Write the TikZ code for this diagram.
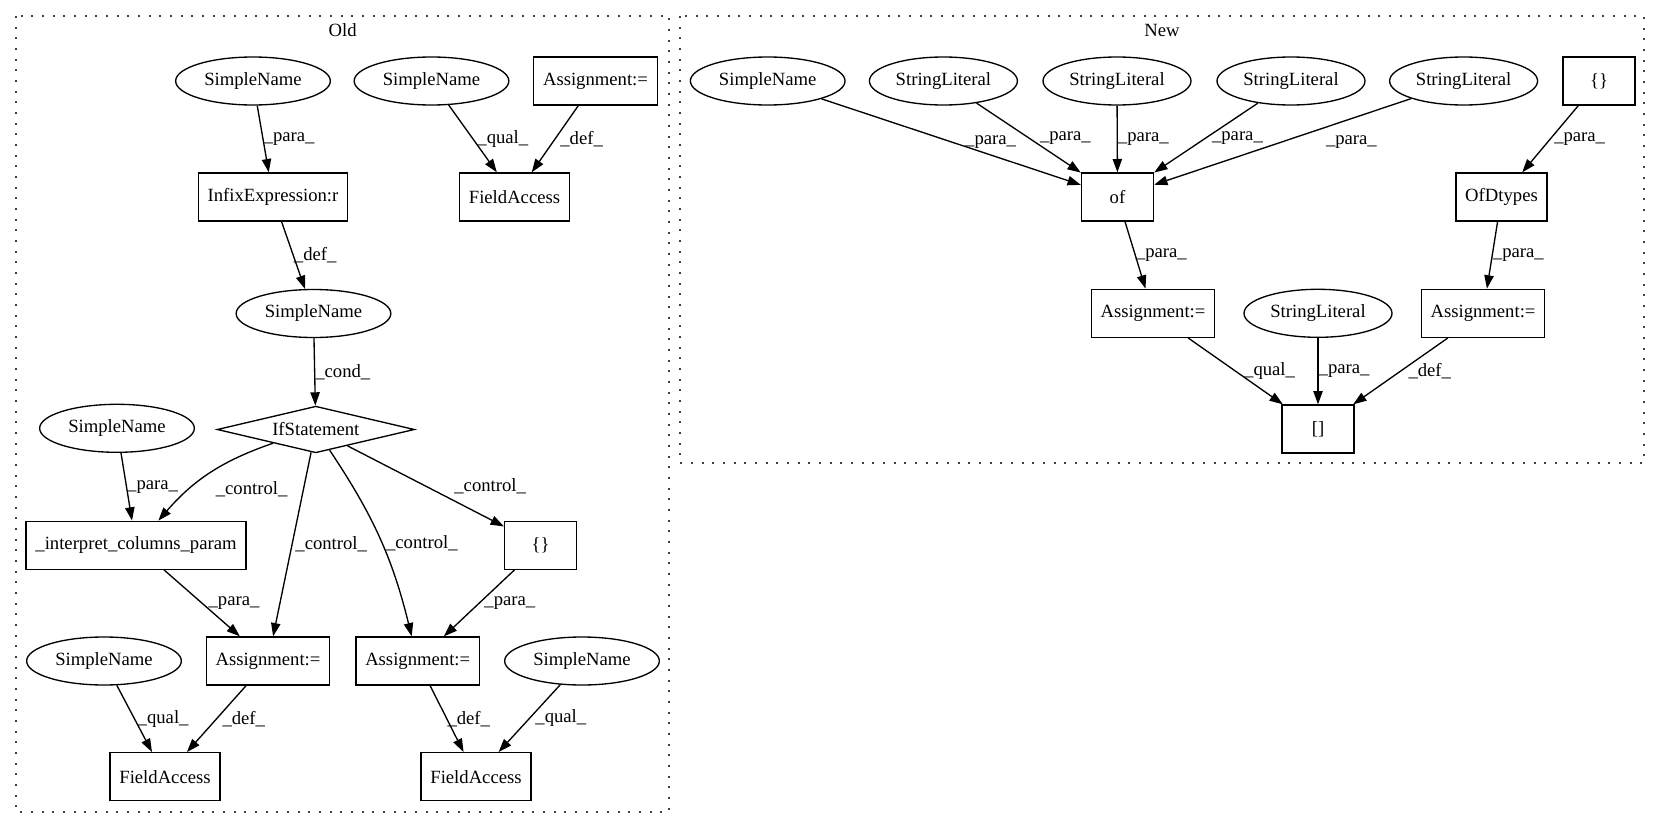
\documentclass[tikz,border=0pt]{standalone}
\usepackage{fontspec}
\setmainfont{Liberation Serif}
\usetikzlibrary{arrows.meta,shapes.geometric}

\begin{document}
\begin{tikzpicture}[
        x=0.75pt, y=-0.75pt,
        every node/.style={font=\fontsize{14}{16}\selectfont},
        ast/.style={ellipse, draw, line width=1pt, minimum width=116pt, minimum height=36pt, inner sep=0pt},
        lit/.style={ast, minimum width=111pt},
        box/.style={rectangle, draw, line width=1pt, minimum width=54pt, minimum height=36pt, inner xsep=7pt},
        cond/.style={diamond, draw, line width=1pt, aspect=4, minimum width=148pt, minimum height=35pt, inner sep=0pt},
        cluster/.style={draw=black!75, line width=1.5pt, dash pattern=on 1.5pt off 6.5pt},
        flow/.style={draw, line width=1pt, -{Triangle[length=10pt,width=7pt]}},
        lbl/.style={midway, anchor=west, inner sep=0pt}
    ]
        \useasboundingbox (0,0) rectangle (1661,828);

        % Clusters
        \draw[cluster] (16,16) rectangle (669,811.7);
        \node (OLD) at (342.6,30) {Old};
        \draw[cluster] (679.5,16) rectangle (1644,463.3);
        \node (NEW) at (1162,30) {New};

        % Old nodes
        \node[ast] (SN1) at (253,81) {SimpleName};
        \node[ast] (SN2) at (431.5,81) {SimpleName};
        \node[box] (ASG1) at (595.5,81) {Assignment:=};
        \node[box] (INFIX) at (273,197) {InfixExpression:r};
        \node[box] (FA1) at (514.5,197) {FieldAccess};
        \node[ast] (SN3) at (313.5,313.5) {SimpleName};
        \node[cond] (IF) at (315.8,429.5) {IfStatement};
        \node[ast] (SN4) at (117,428.3) {SimpleName};
        \node[box] (INTERP) at (136,545.3) {\_interpret\_columns\_param};
        \node[box] (BR1) at (540.6,545.3) {\{\}};
        \node[box] (ASG2) at (268,661) {Assignment:=};
        \node[box] (ASG3) at (417.7,661) {Assignment:=};
        \node[ast] (SN5) at (104,661) {SimpleName};
        \node[ast] (SN6) at (582,661) {SimpleName};
        \node[box] (FA2) at (165,776.7) {FieldAccess};
        \node[box] (FA3) at (476,776.7) {FieldAccess};

        % Old edges
        \draw[flow] (SN1) -- node[lbl] {\_para\_} (INFIX);
        \draw[flow] (SN2) -- node[lbl, xshift=3pt] {\_qual\_} (FA1);
        \draw[flow] (ASG1) -- node[lbl, xshift=3.5pt] {\_def\_} (FA1);
        \draw[flow] (INFIX) -- node[lbl] {\_def\_} (SN3);
        \draw[flow] (SN3) -- node[lbl] {\_cond\_} (IF);
        \draw[flow] (SN4) -- node[lbl] {\_para\_} (INTERP);
        \draw[flow] (IF) to[bend right=15] node[lbl, xshift=4pt, yshift=-12pt] {\_control\_} (INTERP);
        \draw[flow] (IF) -- node[lbl, xshift=2pt] {\_control\_} (ASG2);
        \draw[flow] (IF) to[bend left=10] node[lbl, xshift=4pt, yshift=-3pt] {\_control\_} (ASG3);
        \draw[flow] (IF) -- node[lbl, xshift=21pt] {\_control\_} (BR1);
        \draw[flow] (INTERP) -- node[lbl, xshift=4.5pt] {\_para\_} (ASG2);
        \draw[flow] (BR1) -- node[lbl, xshift=3.5pt] {\_para\_} (ASG3);
        \draw[flow] (SN5) -- node[lbl, xshift=2pt] {\_qual\_} (FA2);
        \draw[flow] (ASG2) -- node[lbl, xshift=4pt] {\_def\_} (FA2);
        \draw[flow] (ASG3) -- node[lbl] {\_def\_} (FA3);
        \draw[flow] (SN6) -- node[lbl, xshift=4pt] {\_qual\_} (FA3);

        % New nodes
        \node[ast] (NSN) at (767.7,81) {SimpleName};
        \node[lit] (SL1) at (943.4,81) {StringLiteral};
        \node[lit] (SL2) at (1117,81) {StringLiteral};
        \node[lit] (SL3) at (1291,81) {StringLiteral};
        \node[lit] (SL4) at (1463.6,81) {StringLiteral};
        \node[box] (BR2) at (1599,81) {\{\}};
        \node[box] (OF) at (1117.5,197) {of};
        \node[box] (OFD) at (1501.5,197) {OfDtypes};
        \node[box] (ASG4) at (1153,313.3) {Assignment:=};
        \node[lit] (SL5) at (1318,313.3) {StringLiteral};
        \node[box] (ASG5) at (1483,313.3) {Assignment:=};
        \node[box] (IDX) at (1318,429) {[]};

        % New edges
        \draw[flow] (NSN) -- node[lbl, xshift=10pt] {\_para\_} (OF);
        \draw[flow] (SL1) -- node[lbl, xshift=8pt] {\_para\_} (OF);
        \draw[flow] (SL2) -- node[lbl] {\_para\_} (OF);
        \draw[flow] (SL3) -- node[lbl, xshift=4pt] {\_para\_} (OF);
        \draw[flow] (SL4) -- node[lbl, xshift=32pt] {\_para\_} (OF);
        \draw[flow] (BR2) -- node[lbl, xshift=2.5pt] {\_para\_} (OFD);
        \draw[flow] (OF) -- node[lbl] {\_para\_} (ASG4);
        \draw[flow] (OFD) -- node[lbl] {\_para\_} (ASG5);
        \draw[flow] (ASG4) -- node[lbl, xshift=6pt] {\_qual\_} (IDX);
        \draw[flow] (SL5) -- node[lbl] {\_para\_} (IDX);
        \draw[flow] (ASG5) -- node[lbl, xshift=5.5pt] {\_def\_} (IDX);

    \end{tikzpicture}
\end{document}
